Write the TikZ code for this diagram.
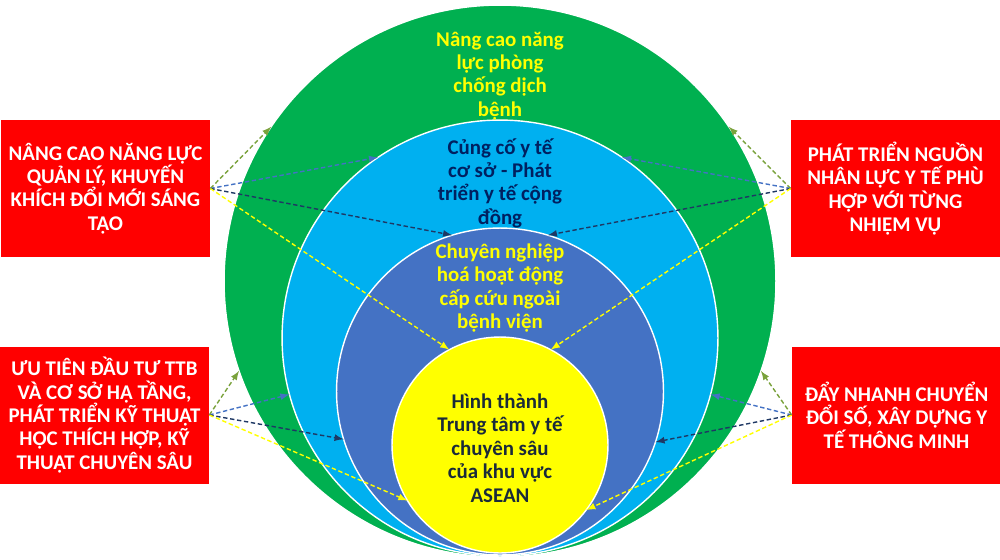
\documentclass[tikz,border=0pt]{standalone}
\usepackage{fontspec}
\setmainfont{Carlito}
\definecolor{vongxanh}{HTML}{00B050}
\definecolor{vongtroi}{HTML}{00B0F0}
\definecolor{vongbien}{HTML}{4472C4}
\definecolor{vongvang}{HTML}{FFFF00}
\definecolor{hopdo}{HTML}{FF0000}
\definecolor{chunavy}{HTML}{002060}
\definecolor{chuden}{HTML}{1A2A3A}
\definecolor{muixanh}{HTML}{7AA23C}
\definecolor{muibien}{HTML}{4472C4}
\definecolor{muinavy}{HTML}{1F3864}
\definecolor{muivang}{HTML}{FFFF00}
\begin{document}
\begin{tikzpicture}[x=0.02cm,y=-0.02cm,
    vong/.style={circle,draw=white,line width=0.8pt,inner sep=0,outer sep=0},
    chu/.style={font=\bfseries\fontsize{11.9}{13.3}\selectfont,align=center},
    hop/.style={chu,fill=hopdo,text=white,inner sep=0,minimum width=4.18cm,minimum height=2.74cm},
    noi/.style={-latex,line width=0.8pt,dash pattern=on 2.5pt off 1.5pt}]
    \useasboundingbox (0,0) rectangle (1000,559);
    \node[vong,fill=vongxanh,minimum size=11.04cm] (C0) at (500,281) {};
    \node[vong,fill=vongtroi,minimum size=8.72cm] (C1) at (500,338) {};
    \node[vong,fill=vongbien,minimum size=6.54cm] (C2) at (500,391.5) {};
    \node[vong,fill=vongvang,minimum size=4.32cm] (C3) at (500,445) {};
    \node[chu,text=vongvang] (T0) at (500,76) {Nâng cao năng\\lực phòng\\chống dịch\\bệnh};
    \node[chu,text=chunavy] (T1) at (500,183) {Củng cố y tế\\cơ sở - Phát\\triển y tế cộng\\đồng};
    \node[chu,text=vongvang] (T2) at (500,288) {Chuyên nghiệp\\hoá hoạt động\\cấp cứu ngoài\\bệnh viện};
    \node[chu,text=chuden] (T3) at (500,448) {Hình thành\\Trung tâm y tế\\chuyên sâu\\của khu vực\\ASEAN};
    \node[hop] (B0_0) at (105.5,188.5) {NÂNG CAO NĂNG LỰC\\QUẢN LÝ, KHUYẾN\\KHÍCH ĐỔI MỚI SÁNG\\TẠO};
    \node[hop] (B0_1) at (895.5,188.5) {PHÁT TRIỂN NGUỒN\\NHÂN LỰC Y TẾ PHÙ\\HỢP VỚI TỪNG\\NHIỆM VỤ};
    \node[hop] (B1_0) at (104.5,415) {ƯU TIÊN ĐẦU TƯ TTB\\VÀ CƠ SỞ HẠ TẦNG,\\PHÁT TRIỂN KỸ THUẬT\\HỌC THÍCH HỢP, KỸ\\THUẬT CHUYÊN SÂU};
    \node[hop] (B1_1) at (896.5,415) {ĐẨY NHANH CHUYỂN\\ĐỔI SỐ, XÂY DỰNG Y\\TẾ THÔNG MINH};
    \path (B0_0.east) edge [noi,draw=muixanh] (C0.146) edge [noi,draw=muibien] (C1.124)
      edge [noi,draw=muinavy] (C2.107) edge [noi,draw=muivang] (C3.118);
    \path (B0_1.west) edge [noi,draw=muixanh] (C0.34) edge [noi,draw=muibien] (C1.56)
      edge [noi,draw=muinavy] (C2.73) edge [noi,draw=muivang] (C3.62);
    \path (B1_0.east) edge [noi,draw=muixanh] (C0.199) edge [noi,draw=muibien] (C1.195)
      edge [noi,draw=muinavy] (C2.197) edge [noi,draw=muivang] (C3.211);
    \path (B1_1.west) edge [noi,draw=muixanh] (C0.341) edge [noi,draw=muibien] (C1.345)
      edge [noi,draw=muinavy] (C2.342) edge [noi,draw=muivang] (C3.323);
  \end{tikzpicture}
\end{document}
